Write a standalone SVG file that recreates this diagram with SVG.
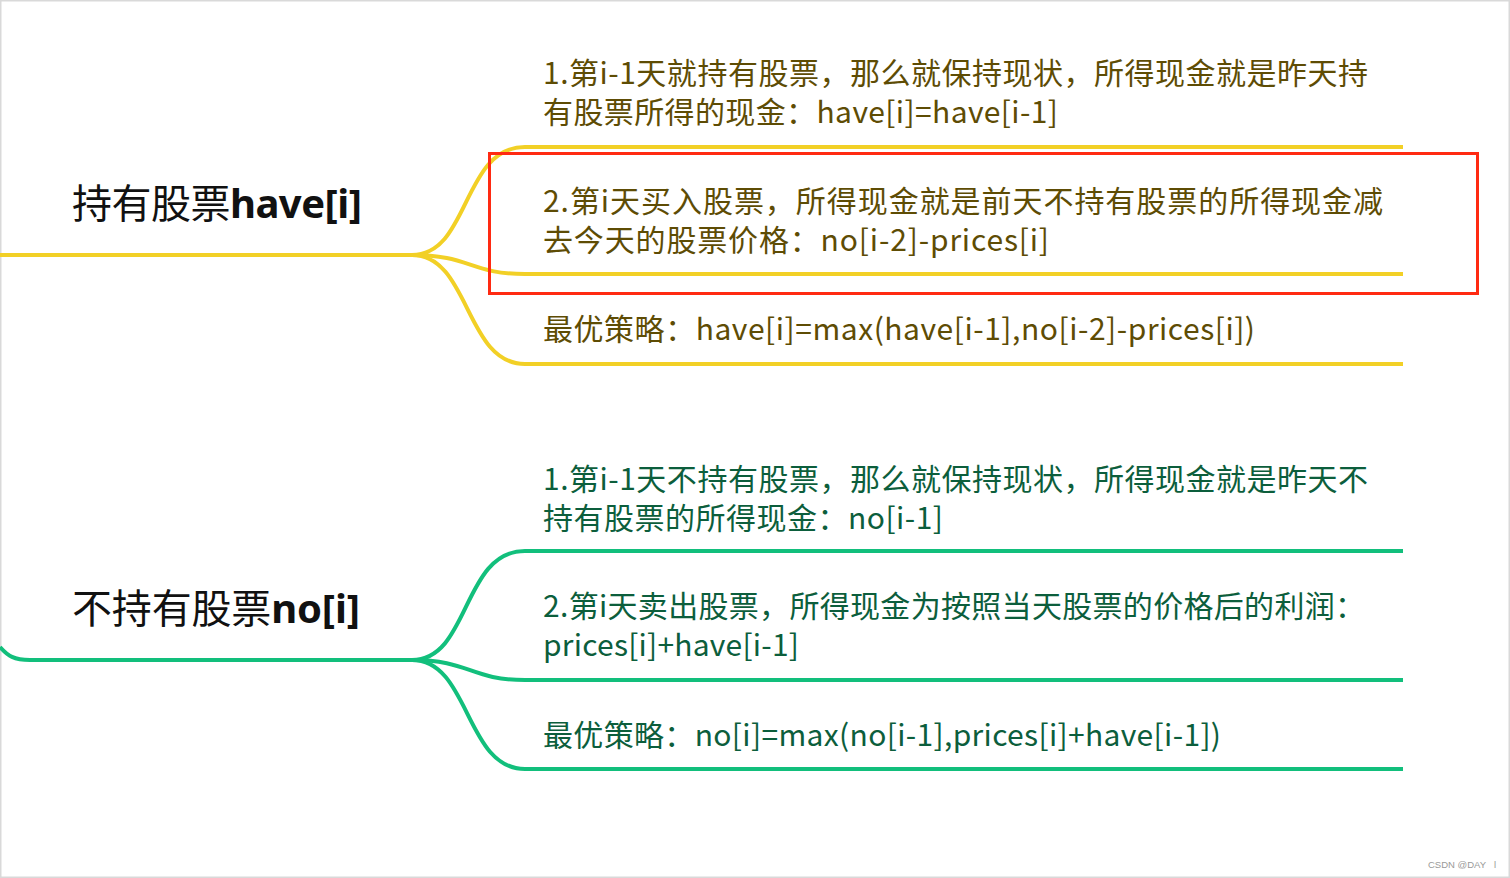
<svg xmlns="http://www.w3.org/2000/svg" width="1510" height="878" viewBox="0 0 1510 878">
<style>
.bg{fill:#ffffff}
.frame{fill:none;stroke:#d9d9d9;stroke-width:1.5}
.ly{fill:none;stroke:#f2d026;stroke-width:4;stroke-linecap:butt}
.lg{fill:none;stroke:#12bf7c;stroke-width:4;stroke-linecap:butt}
.t{font-family:"Noto Sans CJK SC","Noto Sans",sans-serif;font-size:30px}
.ty{fill:#5e4c04}
.tg{fill:#0c5e3c}
.root{font-family:"Noto Sans CJK SC","Noto Sans",sans-serif;font-size:40px;fill:#111111}
.b{font-family:"Noto Sans","Noto Sans CJK SC",sans-serif;font-weight:bold}
.hl{fill:none;stroke:#ff2a12;stroke-width:3}
.wm{font-family:"Liberation Sans",Arial,sans-serif;font-size:9.5px;fill:#999999}
</style>
<rect class="bg" x="0" y="0" width="1510" height="878"/>
<rect class="frame" x="0.75" y="0.75" width="1508.5" height="876.5"/>
<g id="connectors">
<path class="ly" d="M0,255 L412,255 C470,255 462,147 525,147 L1403,147"/>
<path class="ly" d="M412,255 C470,255 470,274 525,274 L1403,274"/>
<path class="ly" d="M412,255 C470,255 465,364 525,364 L1403,364"/>
<path class="lg" d="M0,647 C8,656 14,660 30,660 L412,660 C470,660 462,551 525,551 L1403,551"/>
<path class="lg" d="M412,660 C470,660 470,680 525,680 L1403,680"/>
<path class="lg" d="M412,660 C470,660 465,769 525,769 L1403,769"/>
</g>
<g id="root-have">
<text class="root" x="72" y="218" textLength="290" lengthAdjust="spacing">持有股票<tspan class="b">have[i]</tspan></text>
</g>
<g id="have-1">
<text class="t ty"><tspan x="543" y="84" textLength="825" lengthAdjust="spacing">1.第i-1天就持有股票，那么就保持现状，所得现金就是昨天持</tspan><tspan x="543" y="123" textLength="515" lengthAdjust="spacing">有股票所得的现金：have[i]=have[i-1]</tspan></text>
</g>
<g id="have-2">
<text class="t ty"><tspan x="543" y="212" textLength="840" lengthAdjust="spacing">2.第i天买入股票，所得现金就是前天不持有股票的所得现金减</tspan><tspan x="543" y="251" textLength="506" lengthAdjust="spacing">去今天的股票价格：no[i-2]-prices[i]</tspan></text>
<rect class="hl" x="489.5" y="153.5" width="988" height="140"/>
</g>
<g id="have-best">
<text class="t ty" x="543" y="340" textLength="712" lengthAdjust="spacing">最优策略：have[i]=max(have[i-1],no[i-2]-prices[i])</text>
</g>
<g id="root-no">
<text class="root" x="72" y="623" textLength="288" lengthAdjust="spacing">不持有股票<tspan class="b">no[i]</tspan></text>
</g>
<g id="no-1">
<text class="t tg"><tspan x="543" y="490" textLength="825" lengthAdjust="spacing">1.第i-1天不持有股票，那么就保持现状，所得现金就是昨天不</tspan><tspan x="543" y="529" textLength="400" lengthAdjust="spacing">持有股票的所得现金：no[i-1]</tspan></text>
</g>
<g id="no-2">
<text class="t tg"><tspan x="543" y="617" textLength="822" lengthAdjust="spacing">2.第i天卖出股票，所得现金为按照当天股票的价格后的利润：</tspan><tspan x="543" y="656" textLength="256" lengthAdjust="spacing">prices[i]+have[i-1]</tspan></text>
</g>
<g id="no-best">
<text class="t tg" x="543" y="746" textLength="678" lengthAdjust="spacing">最优策略：no[i]=max(no[i-1],prices[i]+have[i-1])</text>
</g>
<text class="wm" x="1428" y="868">CSDN @DAY<tspan x="1494">l</tspan></text>
</svg>
